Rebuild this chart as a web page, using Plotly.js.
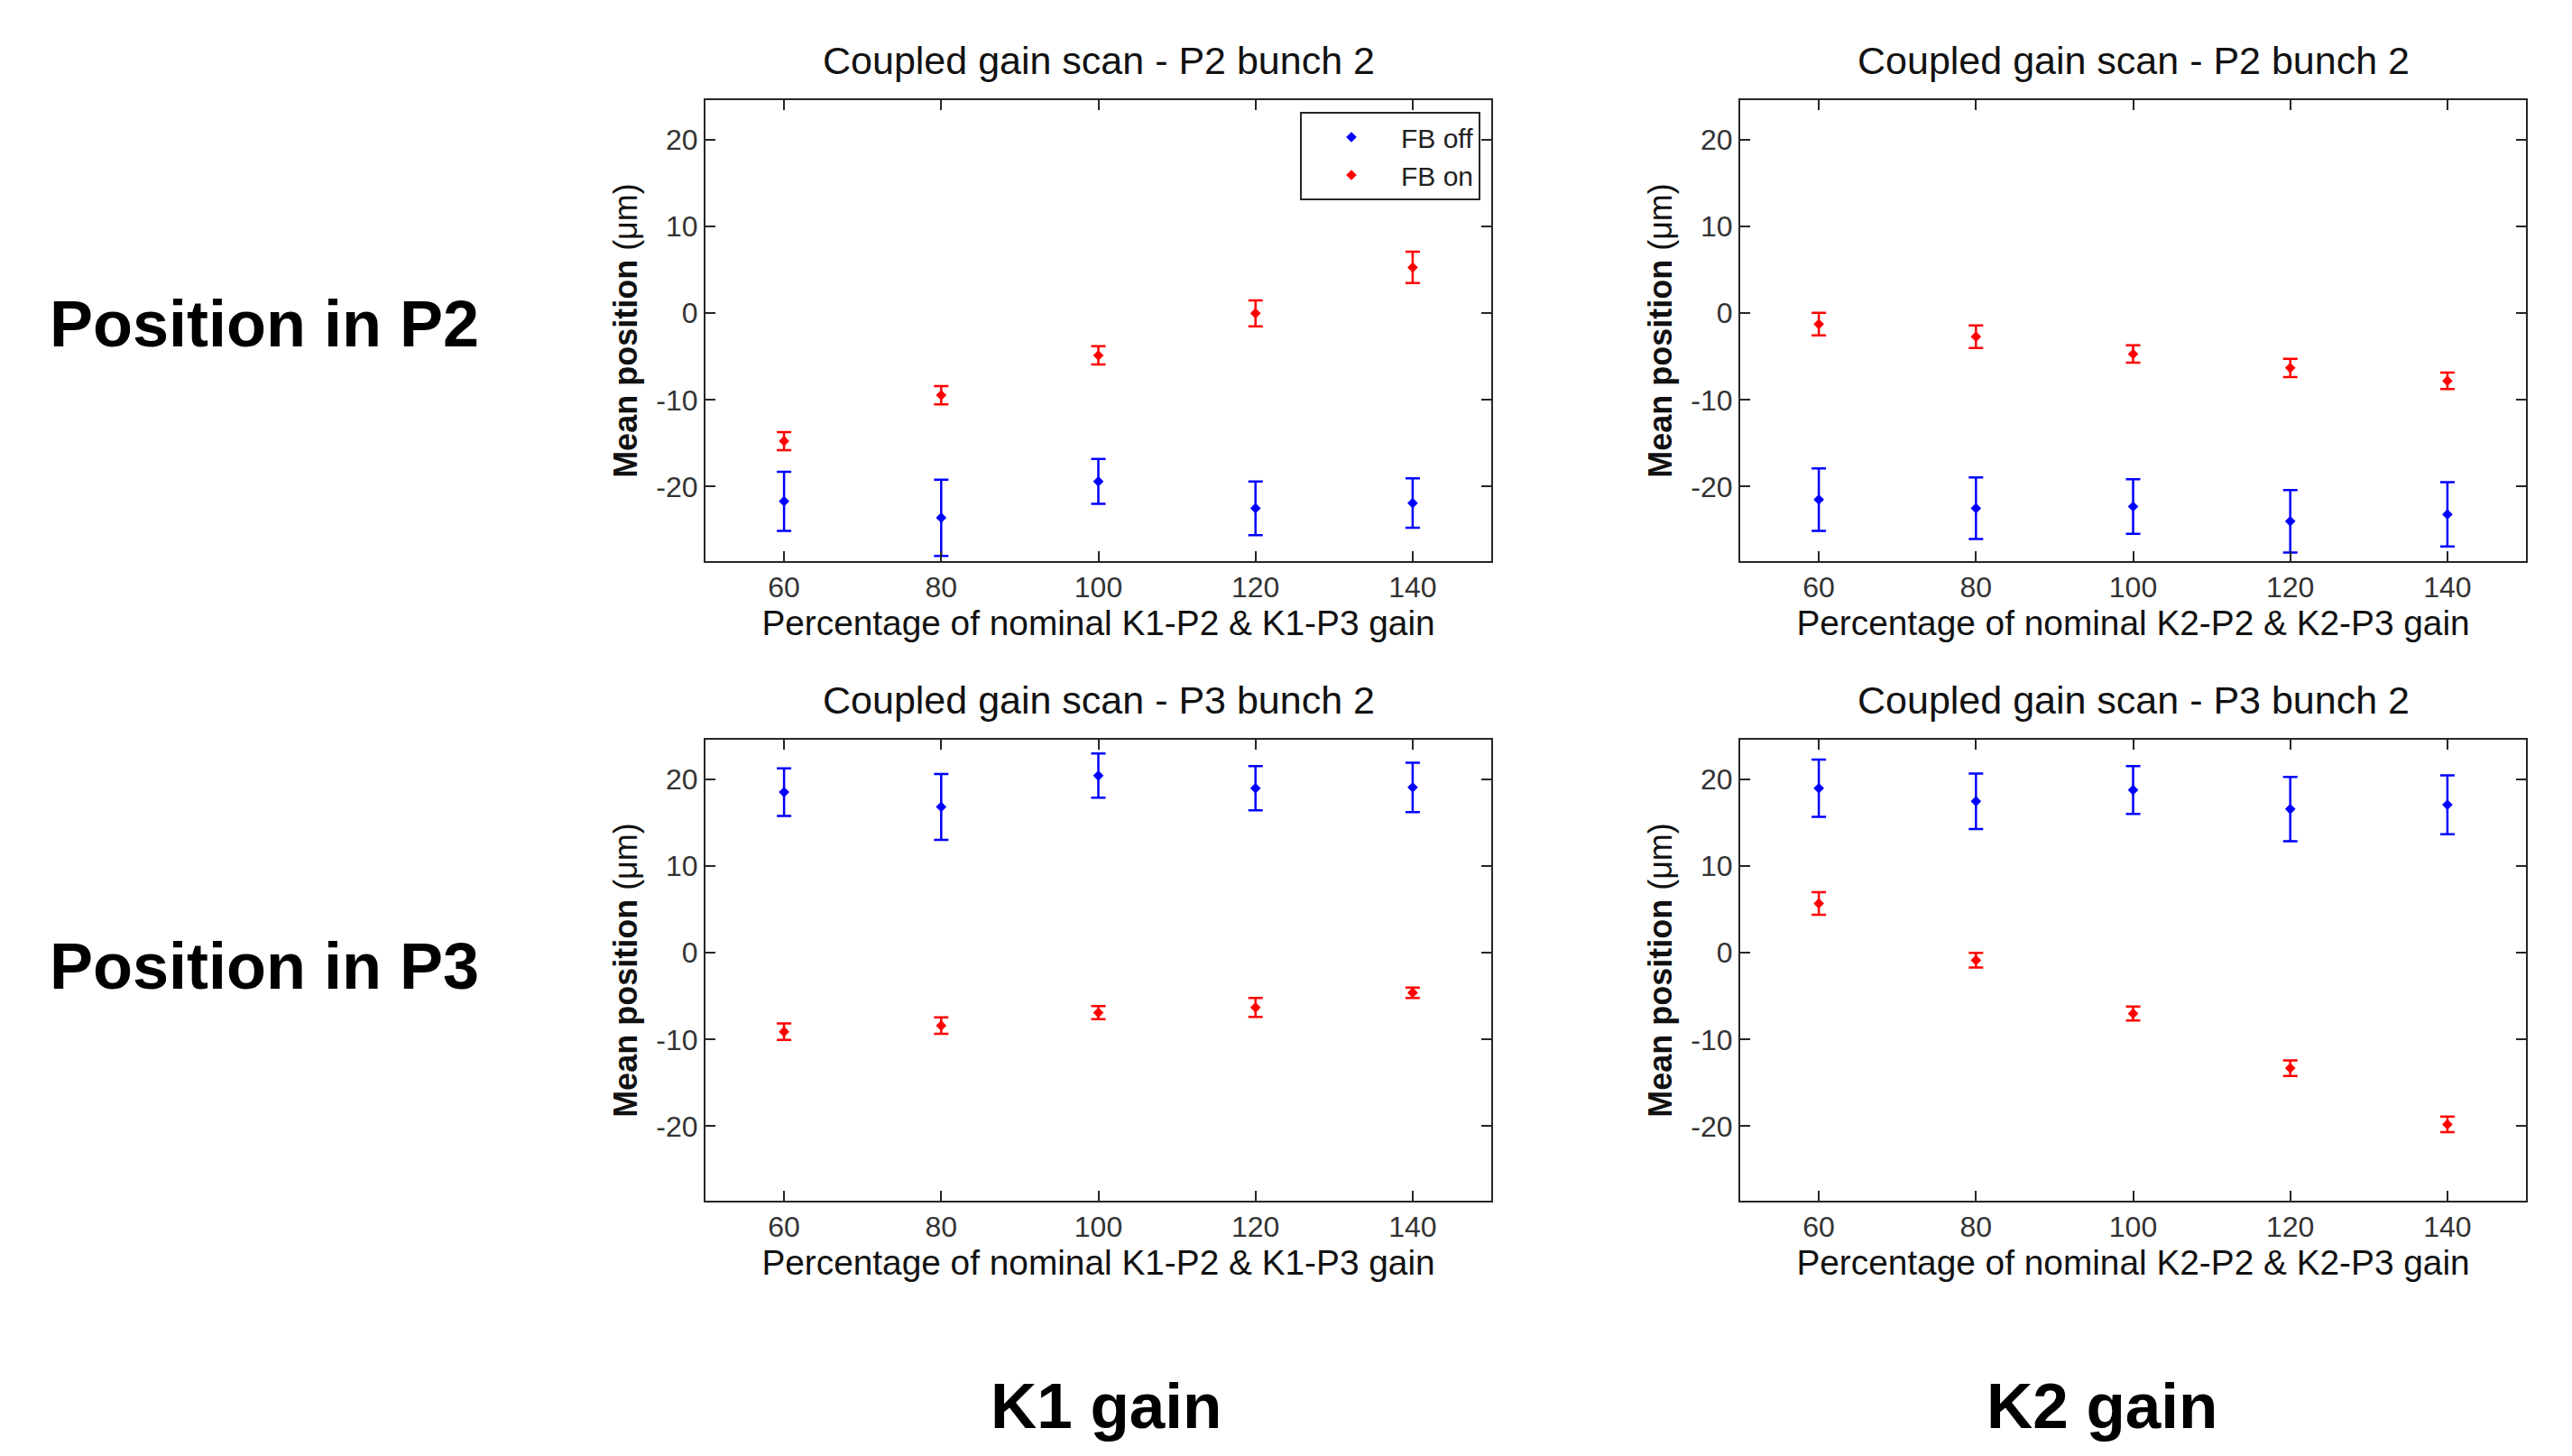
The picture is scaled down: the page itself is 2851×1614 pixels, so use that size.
<!DOCTYPE html>
<html>
<head>
<meta charset="utf-8">
<script src="https://cdn.plot.ly/plotly-3.0.1.min.js"></script>
<style>
  html, body { margin: 0; padding: 0; background: #fff; }
  #chart { width: 2851px; height: 1614px; }
</style>
</head>
<body>
<div id="chart"></div>
<script>
// ---- data ----
const gains = [60, 80, 100, 120, 140];
const xTickVals = [60, 80, 100, 120, 140];
const xTickText = ['60', '80', '100', '120', '140'];
const yTickVals = [-20, -10, 0, 10, 20];
const yTickText = ['-20', '-10', '0', '10', '20'];

// Position in P2, K1 gain scan
const p2k1Off = [-21.7, -23.6, -19.4, -22.5, -21.9];
const p2k1OffErr = [3.4, 4.4, 2.6, 3.1, 2.85];
const p2k1On = [-14.75, -9.45, -4.85, 0.0, 5.3];
const p2k1OnErr = [1.05, 1.05, 1.05, 1.5, 1.8];

// Position in P2, K2 gain scan
const p2k2Off = [-21.5, -22.5, -22.3, -24.0, -23.2];
const p2k2OffErr = [3.6, 3.55, 3.15, 3.6, 3.7];
const p2k2On = [-1.25, -2.7, -4.7, -6.3, -7.8];
const p2k2OnErr = [1.3, 1.3, 1.0, 1.05, 0.95];

// Position in P3, K1 gain scan
const p3k1Off = [18.55, 16.85, 20.45, 19.0, 19.1];
const p3k1OffErr = [2.75, 3.8, 2.55, 2.55, 2.85];
const p3k1On = [-9.1, -8.4, -6.9, -6.3, -4.6];
const p3k1OnErr = [0.95, 0.95, 0.75, 1.1, 0.6];

// Position in P3, K2 gain scan
const p3k2Off = [19.0, 17.5, 18.8, 16.6, 17.1];
const p3k2OffErr = [3.3, 3.2, 2.75, 3.7, 3.4];
const p3k2On = [5.7, -0.85, -7.0, -13.3, -19.8];
const p3k2OnErr = [1.3, 0.85, 0.8, 0.9, 0.9];

const seriesNames = ['FB off', 'FB on'];
const panelTitles = [
  'Coupled gain scan - P2 bunch 2',
  'Coupled gain scan - P2 bunch 2',
  'Coupled gain scan - P3 bunch 2',
  'Coupled gain scan - P3 bunch 2'
];
const xTitles = [
  'Percentage of nominal K1-P2 & K1-P3 gain',
  'Percentage of nominal K2-P2 & K2-P3 gain',
  'Percentage of nominal K1-P2 & K1-P3 gain',
  'Percentage of nominal K2-P2 & K2-P3 gain'
];
const yTitle = '<b>Mean position</b> (\u03bcm)';
const rowLabels = ['Position in P2', 'Position in P3'];
const colLabels = ['K1 gain', 'K2 gain'];

// ---- styling ----
const W = 2851, H = 1614;
const BLUE = '#0000ff', RED = '#ff0000';
const FONT = 'Liberation Sans, Arial, sans-serif';
const AX = '#262626';

const panels = [
  {off: p2k1Off, offErr: p2k1OffErr, on: p2k1On, onErr: p2k1OnErr},
  {off: p2k2Off, offErr: p2k2OffErr, on: p2k2On, onErr: p2k2OnErr},
  {off: p3k1Off, offErr: p3k1OffErr, on: p3k1On, onErr: p3k1OnErr},
  {off: p3k2Off, offErr: p3k2OffErr, on: p3k2On, onErr: p3k2OnErr}
];

// plot boxes in pixels: [left, right, top, bottom]
const boxes = [
  [782, 1653, 111, 622],
  [1929, 2800, 111, 622],
  [782, 1653, 820, 1331],
  [1929, 2800, 820, 1331]
];

const traces = [];
const layout = {
  width: W, height: H,
  margin: {l: 0, r: 0, t: 0, b: 0},
  paper_bgcolor: '#ffffff',
  plot_bgcolor: '#ffffff',
  font: {family: FONT, color: '#000'},
  showlegend: true,
  legend: {
    x: 1641 / W, xanchor: 'right',
    y: 1 - 124 / H, yanchor: 'top',
    bordercolor: AX, borderwidth: 2,
    bgcolor: '#ffffff',
    font: {family: FONT, size: 30, color: '#222'},
    itemwidth: 100,
    tracegroupgap: 0
  },
  annotations: []
};

panels.forEach((p, i) => {
  const n = i + 1;
  const xa = n === 1 ? 'x' : 'x' + n;
  const ya = n === 1 ? 'y' : 'y' + n;
  const b = boxes[i];
  const mk = (y, err, color, name) => ({
    type: 'scatter', mode: 'markers',
    x: gains, y: y, xaxis: xa, yaxis: ya,
    name: name, showlegend: i === 0, legendgroup: name,
    marker: {symbol: 'diamond', size: 9, color: color},
    error_y: {type: 'data', array: err, visible: true, color: color, thickness: 2.5, width: 8}
  });
  traces.push(mk(p.off, p.offErr, BLUE, seriesNames[0]));
  traces.push(mk(p.on, p.onErr, RED, seriesNames[1]));

  layout['xaxis' + (n === 1 ? '' : n)] = {
    domain: [b[0] / W, b[1] / W],
    anchor: ya,
    range: [50, 150],
    tickvals: xTickVals, ticktext: xTickText,
    ticks: 'inside', ticklen: 11, tickwidth: 2, tickcolor: AX,
    showline: true, linecolor: AX, linewidth: 2, mirror: 'ticks',
    showgrid: false, zeroline: false,
    tickfont: {family: FONT, size: 32, color: '#333'},
    title: {text: xTitles[i], font: {family: FONT, size: 38.8, color: '#111'}, standoff: 8}
  };
  layout['yaxis' + (n === 1 ? '' : n)] = {
    domain: [1 - b[3] / H, 1 - b[2] / H],
    anchor: xa,
    range: [-28.6, 24.6],
    tickvals: yTickVals, ticktext: yTickText,
    ticks: 'inside', ticklen: 11, tickwidth: 2, tickcolor: AX,
    showline: true, linecolor: AX, linewidth: 2, mirror: 'ticks',
    showgrid: false, zeroline: false,
    tickfont: {family: FONT, size: 32, color: '#333'},
    title: {text: yTitle, font: {family: FONT, size: 36, color: '#111'}, standoff: 10}
  };
  layout.annotations.push({
    text: panelTitles[i], xref: 'paper', yref: 'paper',
    x: (b[0] + b[1]) / 2 / W, y: 1 - (b[2] - 44) / H,
    xanchor: 'center', yanchor: 'middle', showarrow: false,
    font: {family: FONT, size: 43, color: '#111'}
  });
});

// row labels
[[359, rowLabels[0]], [1071, rowLabels[1]]].forEach(([yc, t]) => {
  layout.annotations.push({
    text: '<b>' + t + '</b>', xref: 'paper', yref: 'paper',
    x: 53 / W, y: 1 - yc / H, xanchor: 'left', yanchor: 'middle',
    showarrow: false, font: {family: FONT, size: 72, color: '#000'}
  });
});
// column labels
[[1226, colLabels[0]], [2330, colLabels[1]]].forEach(([xc, t]) => {
  layout.annotations.push({
    text: '<b>' + t + '</b>', xref: 'paper', yref: 'paper',
    x: xc / W, y: 1 - 1558 / H, xanchor: 'center', yanchor: 'middle',
    showarrow: false, font: {family: FONT, size: 71, color: '#000'}
  });
});

Plotly.newPlot('chart', traces, layout, {displayModeBar: false, staticPlot: true});
</script>
</body>
</html>
